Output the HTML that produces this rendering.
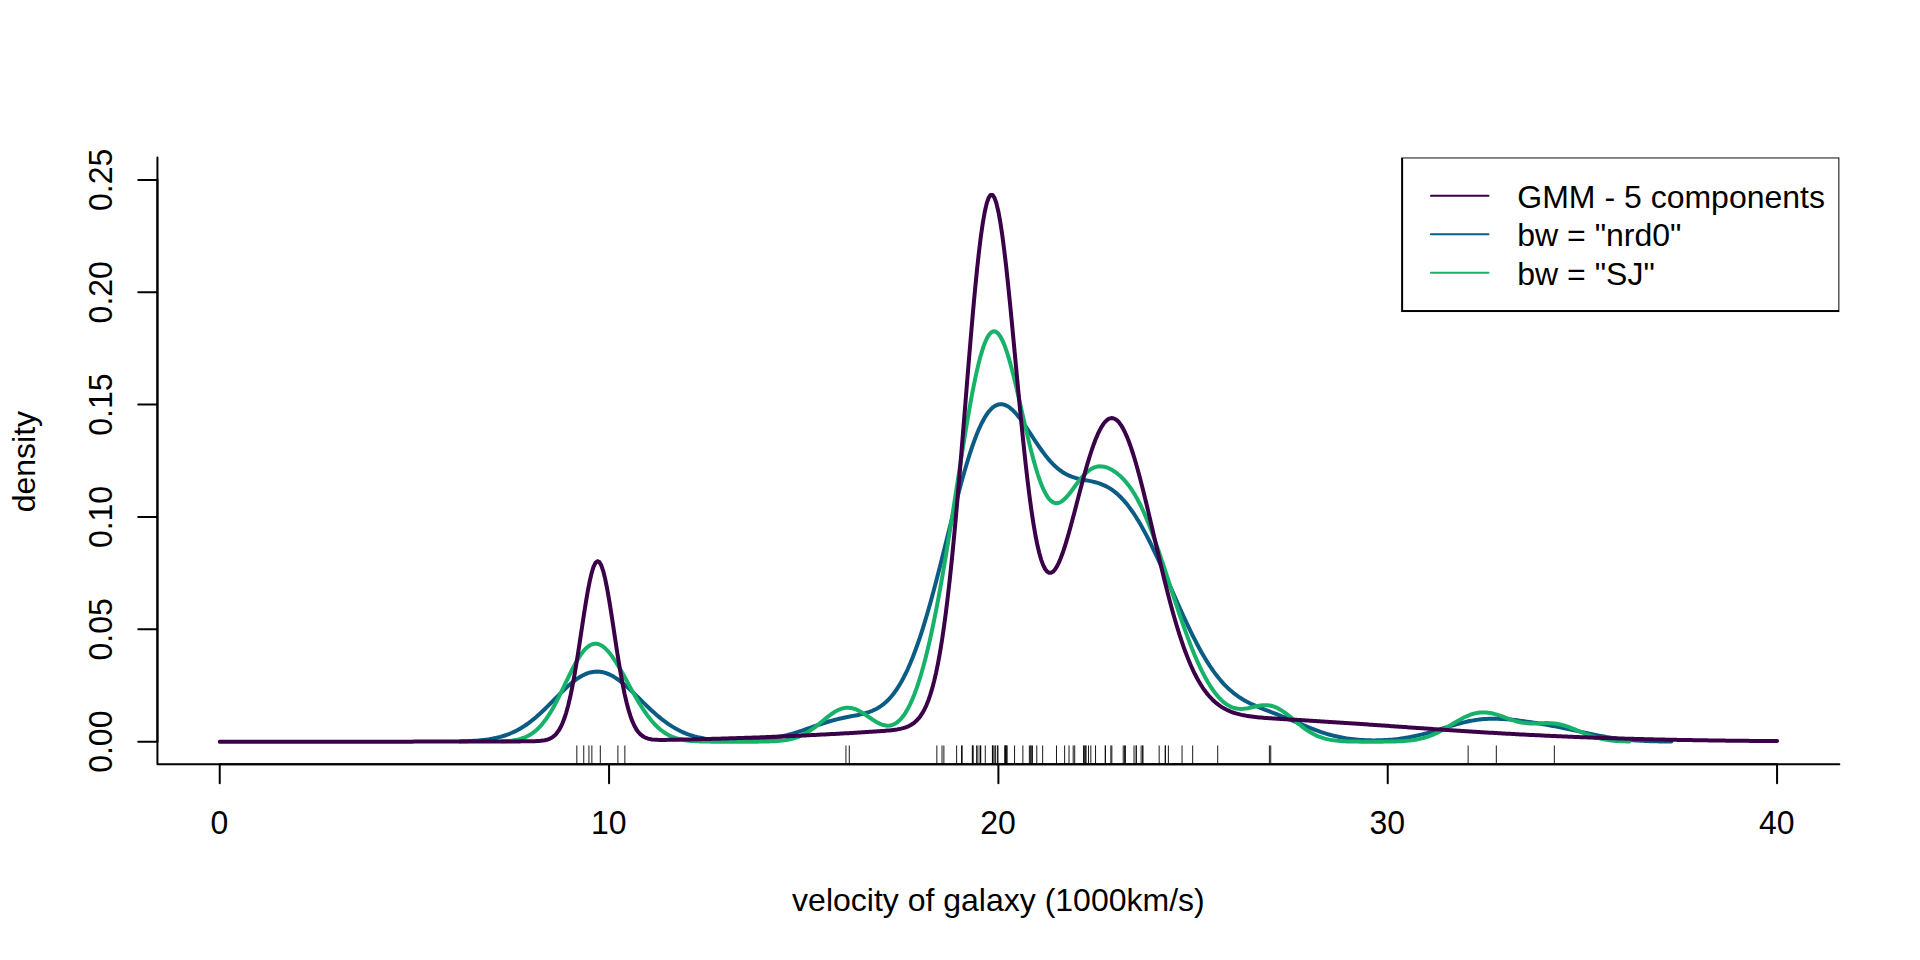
<!DOCTYPE html>
<html lang="en"><head><meta charset="utf-8"><title>Galaxy velocity density</title>
<style>
html,body{margin:0;padding:0;background:#fff;}
body{width:1920px;height:960px;overflow:hidden;}
svg{display:block;}
text{font-family:"Liberation Sans",Arial,Helvetica,sans-serif;font-size:32px;fill:#000;}
</style></head><body>
<svg width="1920" height="960" viewBox="0 0 1920 960">
<rect width="1920" height="960" fill="#fff"/>
<defs><clipPath id="pc"><rect x="157.44" y="157.44" width="1681.92" height="606.72"/></clipPath></defs>

<g clip-path="url(#pc)" fill="none" stroke-width="4" stroke-linecap="round" stroke-linejoin="round">
<path d="M459.82,741.40 L462.19,741.33 L464.56,741.26 L466.93,741.17 L469.30,741.07 L471.67,740.95 L474.04,740.81 L476.41,740.64 L478.78,740.45 L481.15,740.23 L483.52,739.98 L485.89,739.69 L488.27,739.36 L490.64,738.98 L493.01,738.56 L495.38,738.08 L497.75,737.54 L500.12,736.93 L502.49,736.26 L504.86,735.51 L507.23,734.68 L509.60,733.77 L511.97,732.77 L514.35,731.68 L516.72,730.49 L519.09,729.21 L521.46,727.82 L523.83,726.34 L526.20,724.75 L528.57,723.06 L530.94,721.27 L533.31,719.39 L535.68,717.41 L538.05,715.35 L540.43,713.21 L542.80,711.00 L545.17,708.72 L547.54,706.39 L549.91,704.02 L552.28,701.63 L554.65,699.22 L557.02,696.81 L559.39,694.42 L561.76,692.07 L564.13,689.77 L566.51,687.54 L568.88,685.39 L571.25,683.34 L573.62,681.41 L575.99,679.62 L578.36,677.98 L580.73,676.50 L583.10,675.19 L585.47,674.08 L587.84,673.16 L590.21,672.44 L592.59,671.93 L594.96,671.64 L597.33,671.56 L599.70,671.70 L602.07,672.06 L604.44,672.62 L606.81,673.39 L609.18,674.36 L611.55,675.52 L613.92,676.85 L616.29,678.35 L618.67,680.01 L621.04,681.80 L623.41,683.71 L625.78,685.73 L628.15,687.85 L630.52,690.04 L632.89,692.29 L635.26,694.59 L637.63,696.91 L640.00,699.25 L642.37,701.58 L644.75,703.91 L647.12,706.20 L649.49,708.46 L651.86,710.67 L654.23,712.81 L656.60,714.89 L658.97,716.90 L661.34,718.83 L663.71,720.67 L666.08,722.42 L668.45,724.08 L670.82,725.65 L673.20,727.12 L675.57,728.50 L677.94,729.78 L680.31,730.98 L682.68,732.08 L685.05,733.10 L687.42,734.03 L689.79,734.88 L692.16,735.66 L694.53,736.36 L696.90,737.00 L699.28,737.57 L701.65,738.08 L704.02,738.54 L706.39,738.94 L708.76,739.30 L711.13,739.61 L713.50,739.88 L715.87,740.12 L718.24,740.32 L720.61,740.49 L722.98,740.63 L725.36,740.74 L727.73,740.83 L730.10,740.90 L732.47,740.94 L734.84,740.96 L737.21,740.97 L739.58,740.95 L741.95,740.91 L744.32,740.85 L746.69,740.77 L749.06,740.67 L751.44,740.54 L753.81,740.39 L756.18,740.22 L758.55,740.02 L760.92,739.79 L763.29,739.54 L765.66,739.25 L768.03,738.93 L770.40,738.58 L772.77,738.20 L775.14,737.78 L777.52,737.32 L779.89,736.83 L782.26,736.30 L784.63,735.74 L787.00,735.14 L789.37,734.50 L791.74,733.83 L794.11,733.13 L796.48,732.39 L798.85,731.64 L801.22,730.86 L803.60,730.05 L805.97,729.24 L808.34,728.41 L810.71,727.58 L813.08,726.74 L815.45,725.91 L817.82,725.09 L820.19,724.28 L822.56,723.49 L824.93,722.73 L827.30,721.99 L829.68,721.28 L832.05,720.60 L834.42,719.96 L836.79,719.36 L839.16,718.78 L841.53,718.24 L843.90,717.73 L846.27,717.25 L848.64,716.78 L851.01,716.33 L853.38,715.88 L855.75,715.42 L858.13,714.94 L860.50,714.42 L862.87,713.86 L865.24,713.23 L867.61,712.52 L869.98,711.70 L872.35,710.77 L874.72,709.69 L877.09,708.46 L879.46,707.04 L881.83,705.42 L884.21,703.57 L886.58,701.48 L888.95,699.12 L891.32,696.49 L893.69,693.54 L896.06,690.28 L898.43,686.69 L900.80,682.75 L903.17,678.45 L905.54,673.78 L907.91,668.74 L910.29,663.32 L912.66,657.52 L915.03,651.34 L917.40,644.78 L919.77,637.86 L922.14,630.58 L924.51,622.96 L926.88,615.02 L929.25,606.77 L931.62,598.25 L933.99,589.48 L936.37,580.49 L938.74,571.31 L941.11,561.98 L943.48,552.55 L945.85,543.05 L948.22,533.53 L950.59,524.04 L952.96,514.61 L955.33,505.30 L957.70,496.16 L960.07,487.23 L962.45,478.56 L964.82,470.20 L967.19,462.20 L969.56,454.59 L971.93,447.41 L974.30,440.71 L976.67,434.51 L979.04,428.84 L981.41,423.74 L983.78,419.21 L986.15,415.27 L988.53,411.93 L990.90,409.19 L993.27,407.06 L995.64,405.52 L998.01,404.57 L1000.38,404.18 L1002.75,404.32 L1005.12,404.98 L1007.49,406.12 L1009.86,407.71 L1012.23,409.70 L1014.61,412.05 L1016.98,414.73 L1019.35,417.67 L1021.72,420.84 L1024.09,424.20 L1026.46,427.68 L1028.83,431.26 L1031.20,434.88 L1033.57,438.50 L1035.94,442.09 L1038.31,445.60 L1040.69,449.01 L1043.06,452.29 L1045.43,455.41 L1047.80,458.35 L1050.17,461.10 L1052.54,463.65 L1054.91,465.98 L1057.28,468.10 L1059.65,470.00 L1062.02,471.69 L1064.39,473.19 L1066.76,474.49 L1069.14,475.61 L1071.51,476.58 L1073.88,477.40 L1076.25,478.11 L1078.62,478.72 L1080.99,479.25 L1083.36,479.74 L1085.73,480.19 L1088.10,480.65 L1090.47,481.12 L1092.84,481.64 L1095.22,482.22 L1097.59,482.89 L1099.96,483.66 L1102.33,484.55 L1104.70,485.59 L1107.07,486.78 L1109.44,488.14 L1111.81,489.67 L1114.18,491.40 L1116.55,493.33 L1118.92,495.45 L1121.30,497.79 L1123.67,500.34 L1126.04,503.10 L1128.41,506.08 L1130.78,509.27 L1133.15,512.67 L1135.52,516.27 L1137.89,520.07 L1140.26,524.07 L1142.63,528.25 L1145.00,532.60 L1147.38,537.12 L1149.75,541.78 L1152.12,546.59 L1154.49,551.53 L1156.86,556.57 L1159.23,561.72 L1161.60,566.95 L1163.97,572.24 L1166.34,577.58 L1168.71,582.96 L1171.08,588.35 L1173.46,593.75 L1175.83,599.12 L1178.20,604.47 L1180.57,609.77 L1182.94,615.00 L1185.31,620.16 L1187.68,625.22 L1190.05,630.17 L1192.42,635.01 L1194.79,639.72 L1197.16,644.28 L1199.54,648.69 L1201.91,652.95 L1204.28,657.03 L1206.65,660.95 L1209.02,664.69 L1211.39,668.25 L1213.76,671.63 L1216.13,674.82 L1218.50,677.84 L1220.87,680.68 L1223.24,683.34 L1225.62,685.82 L1227.99,688.15 L1230.36,690.31 L1232.73,692.33 L1235.10,694.20 L1237.47,695.93 L1239.84,697.54 L1242.21,699.04 L1244.58,700.43 L1246.95,701.73 L1249.32,702.95 L1251.69,704.10 L1254.07,705.19 L1256.44,706.22 L1258.81,707.21 L1261.18,708.17 L1263.55,709.11 L1265.92,710.03 L1268.29,710.95 L1270.66,711.86 L1273.03,712.77 L1275.40,713.68 L1277.77,714.61 L1280.15,715.54 L1282.52,716.49 L1284.89,717.45 L1287.26,718.42 L1289.63,719.41 L1292.00,720.40 L1294.37,721.39 L1296.74,722.40 L1299.11,723.40 L1301.48,724.39 L1303.85,725.38 L1306.23,726.36 L1308.60,727.32 L1310.97,728.27 L1313.34,729.19 L1315.71,730.08 L1318.08,730.95 L1320.45,731.78 L1322.82,732.57 L1325.19,733.33 L1327.56,734.06 L1329.93,734.74 L1332.31,735.38 L1334.68,735.98 L1337.05,736.53 L1339.42,737.05 L1341.79,737.52 L1344.16,737.96 L1346.53,738.35 L1348.90,738.70 L1351.27,739.02 L1353.64,739.30 L1356.01,739.55 L1358.39,739.76 L1360.76,739.94 L1363.13,740.09 L1365.50,740.20 L1367.87,740.29 L1370.24,740.35 L1372.61,740.38 L1374.98,740.38 L1377.35,740.36 L1379.72,740.31 L1382.09,740.23 L1384.47,740.12 L1386.84,739.98 L1389.21,739.82 L1391.58,739.63 L1393.95,739.41 L1396.32,739.16 L1398.69,738.88 L1401.06,738.56 L1403.43,738.22 L1405.80,737.85 L1408.17,737.44 L1410.55,737.00 L1412.92,736.53 L1415.29,736.03 L1417.66,735.50 L1420.03,734.93 L1422.40,734.34 L1424.77,733.72 L1427.14,733.08 L1429.51,732.42 L1431.88,731.73 L1434.25,731.03 L1436.62,730.31 L1439.00,729.59 L1441.37,728.85 L1443.74,728.12 L1446.11,727.39 L1448.48,726.66 L1450.85,725.94 L1453.22,725.24 L1455.59,724.56 L1457.96,723.90 L1460.33,723.26 L1462.70,722.66 L1465.08,722.10 L1467.45,721.57 L1469.82,721.08 L1472.19,720.64 L1474.56,720.24 L1476.93,719.88 L1479.30,719.58 L1481.67,719.32 L1484.04,719.11 L1486.41,718.95 L1488.78,718.83 L1491.16,718.76 L1493.53,718.74 L1495.90,718.75 L1498.27,718.81 L1500.64,718.90 L1503.01,719.03 L1505.38,719.19 L1507.75,719.37 L1510.12,719.58 L1512.49,719.82 L1514.86,720.08 L1517.24,720.35 L1519.61,720.65 L1521.98,720.96 L1524.35,721.28 L1526.72,721.61 L1529.09,721.95 L1531.46,722.31 L1533.83,722.67 L1536.20,723.04 L1538.57,723.43 L1540.94,723.82 L1543.32,724.22 L1545.69,724.63 L1548.06,725.05 L1550.43,725.48 L1552.80,725.93 L1555.17,726.38 L1557.54,726.84 L1559.91,727.31 L1562.28,727.80 L1564.65,728.29 L1567.02,728.79 L1569.40,729.30 L1571.77,729.81 L1574.14,730.33 L1576.51,730.86 L1578.88,731.38 L1581.25,731.91 L1583.62,732.43 L1585.99,732.95 L1588.36,733.46 L1590.73,733.97 L1593.10,734.46 L1595.48,734.95 L1597.85,735.42 L1600.22,735.88 L1602.59,736.32 L1604.96,736.74 L1607.33,737.15 L1609.70,737.53 L1612.07,737.90 L1614.44,738.24 L1616.81,738.56 L1619.18,738.87 L1621.56,739.15 L1623.93,739.41 L1626.30,739.65 L1628.67,739.88 L1631.04,740.08 L1633.41,740.27 L1635.78,740.44 L1638.15,740.59 L1640.52,740.73 L1642.89,740.85 L1645.26,740.96 L1647.63,741.06 L1650.01,741.15 L1652.38,741.22 L1654.75,741.29 L1657.12,741.35 L1659.49,741.40 L1661.86,741.44 L1664.23,741.48 L1666.60,741.51 L1668.97,741.54 L1671.34,741.57" stroke="#0B5C84"/>
<path d="M501.73,741.35 L503.93,741.24 L506.14,741.10 L508.35,740.92 L510.55,740.70 L512.76,740.42 L514.97,740.07 L517.18,739.65 L519.38,739.13 L521.59,738.50 L523.80,737.74 L526.00,736.85 L528.21,735.79 L530.42,734.54 L532.62,733.10 L534.83,731.44 L537.04,729.55 L539.24,727.40 L541.45,725.00 L543.66,722.32 L545.86,719.37 L548.07,716.15 L550.28,712.66 L552.49,708.91 L554.69,704.94 L556.90,700.75 L559.11,696.40 L561.31,691.91 L563.52,687.33 L565.73,682.71 L567.93,678.11 L570.14,673.59 L572.35,669.19 L574.55,664.99 L576.76,661.04 L578.97,657.40 L581.17,654.11 L583.38,651.21 L585.59,648.75 L587.79,646.76 L590.00,645.26 L592.21,644.26 L594.42,643.76 L596.62,643.77 L598.83,644.28 L601.04,645.26 L603.24,646.70 L605.45,648.56 L607.66,650.81 L609.86,653.42 L612.07,656.35 L614.28,659.55 L616.48,662.99 L618.69,666.63 L620.90,670.42 L623.10,674.33 L625.31,678.32 L627.52,682.34 L629.73,686.37 L631.93,690.37 L634.14,694.31 L636.35,698.17 L638.55,701.92 L640.76,705.53 L642.97,708.98 L645.17,712.27 L647.38,715.37 L649.59,718.28 L651.79,720.99 L654.00,723.49 L656.21,725.79 L658.41,727.88 L660.62,729.77 L662.83,731.47 L665.03,732.98 L667.24,734.31 L669.45,735.49 L671.66,736.51 L673.86,737.39 L676.07,738.15 L678.28,738.79 L680.48,739.33 L682.69,739.79 L684.90,740.16 L687.10,740.48 L689.31,740.73 L691.52,740.94 L693.72,741.10 L695.93,741.24 L698.14,741.34 L700.34,741.42 L702.55,741.49 L704.76,741.54 L706.97,741.58 L709.17,741.61 L711.38,741.63 L713.59,741.64 L715.79,741.66 L718.00,741.67 L720.21,741.67 L722.41,741.68 L724.62,741.68 L726.83,741.68 L729.03,741.68 L731.24,741.69 L733.45,741.69 L735.65,741.69 L737.86,741.69 L740.07,741.68 L742.27,741.68 L744.48,741.68 L746.69,741.68 L748.90,741.67 L751.10,741.67 L753.31,741.66 L755.52,741.65 L757.72,741.63 L759.93,741.61 L762.14,741.59 L764.34,741.55 L766.55,741.51 L768.76,741.45 L770.96,741.37 L773.17,741.27 L775.38,741.15 L777.58,741.00 L779.79,740.81 L782.00,740.58 L784.21,740.30 L786.41,739.96 L788.62,739.55 L790.83,739.07 L793.03,738.50 L795.24,737.85 L797.45,737.09 L799.65,736.23 L801.86,735.25 L804.07,734.16 L806.27,732.96 L808.48,731.63 L810.69,730.20 L812.89,728.66 L815.10,727.03 L817.31,725.33 L819.51,723.56 L821.72,721.76 L823.93,719.96 L826.14,718.16 L828.34,716.42 L830.55,714.76 L832.76,713.21 L834.96,711.80 L837.17,710.56 L839.38,709.52 L841.58,708.70 L843.79,708.12 L846.00,707.79 L848.20,707.71 L850.41,707.89 L852.62,708.31 L854.82,708.98 L857.03,709.86 L859.24,710.93 L861.45,712.16 L863.65,713.53 L865.86,714.99 L868.07,716.50 L870.27,718.02 L872.48,719.51 L874.69,720.93 L876.89,722.23 L879.10,723.38 L881.31,724.33 L883.51,725.05 L885.72,725.51 L887.93,725.66 L890.13,725.48 L892.34,724.94 L894.55,724.01 L896.75,722.66 L898.96,720.87 L901.17,718.61 L903.38,715.87 L905.58,712.62 L907.79,708.85 L910.00,704.54 L912.20,699.68 L914.41,694.26 L916.62,688.26 L918.82,681.69 L921.03,674.53 L923.24,666.79 L925.44,658.46 L927.65,649.56 L929.86,640.08 L932.06,630.04 L934.27,619.45 L936.48,608.33 L938.69,596.70 L940.89,584.58 L943.10,572.01 L945.31,559.04 L947.51,545.69 L949.72,532.03 L951.93,518.13 L954.13,504.03 L956.34,489.84 L958.55,475.63 L960.75,461.49 L962.96,447.53 L965.17,433.87 L967.37,420.60 L969.58,407.85 L971.79,395.73 L973.99,384.37 L976.20,373.87 L978.41,364.34 L980.62,355.87 L982.82,348.55 L985.03,342.47 L987.24,337.66 L989.44,334.18 L991.65,332.04 L993.86,331.25 L996.06,331.79 L998.27,333.63 L1000.48,336.71 L1002.68,340.97 L1004.89,346.32 L1007.10,352.65 L1009.30,359.86 L1011.51,367.83 L1013.72,376.42 L1015.93,385.51 L1018.13,394.95 L1020.34,404.62 L1022.55,414.37 L1024.75,424.09 L1026.96,433.64 L1029.17,442.90 L1031.37,451.76 L1033.58,460.13 L1035.79,467.91 L1037.99,475.03 L1040.20,481.42 L1042.41,487.02 L1044.61,491.80 L1046.82,495.75 L1049.03,498.84 L1051.23,501.09 L1053.44,502.52 L1055.65,503.17 L1057.86,503.09 L1060.06,502.34 L1062.27,501.00 L1064.48,499.15 L1066.68,496.88 L1068.89,494.29 L1071.10,491.47 L1073.30,488.52 L1075.51,485.52 L1077.72,482.56 L1079.92,479.71 L1082.13,477.05 L1084.34,474.62 L1086.54,472.47 L1088.75,470.62 L1090.96,469.11 L1093.17,467.93 L1095.37,467.08 L1097.58,466.57 L1099.79,466.36 L1101.99,466.44 L1104.20,466.80 L1106.41,467.40 L1108.61,468.24 L1110.82,469.30 L1113.03,470.56 L1115.23,472.02 L1117.44,473.67 L1119.65,475.53 L1121.85,477.60 L1124.06,479.89 L1126.27,482.41 L1128.47,485.18 L1130.68,488.21 L1132.89,491.52 L1135.10,495.12 L1137.30,499.02 L1139.51,503.22 L1141.72,507.72 L1143.92,512.53 L1146.13,517.62 L1148.34,522.99 L1150.54,528.62 L1152.75,534.48 L1154.96,540.56 L1157.16,546.83 L1159.37,553.26 L1161.58,559.82 L1163.78,566.48 L1165.99,573.21 L1168.20,579.99 L1170.41,586.78 L1172.61,593.55 L1174.82,600.28 L1177.03,606.94 L1179.23,613.51 L1181.44,619.97 L1183.65,626.28 L1185.85,632.44 L1188.06,638.42 L1190.27,644.21 L1192.47,649.79 L1194.68,655.15 L1196.89,660.28 L1199.09,665.17 L1201.30,669.82 L1203.51,674.21 L1205.71,678.34 L1207.92,682.22 L1210.13,685.83 L1212.34,689.17 L1214.54,692.25 L1216.75,695.06 L1218.96,697.61 L1221.16,699.89 L1223.37,701.90 L1225.58,703.64 L1227.78,705.12 L1229.99,706.34 L1232.20,707.31 L1234.40,708.04 L1236.61,708.54 L1238.82,708.82 L1241.02,708.90 L1243.23,708.81 L1245.44,708.57 L1247.65,708.21 L1249.85,707.77 L1252.06,707.27 L1254.27,706.76 L1256.47,706.26 L1258.68,705.83 L1260.89,705.48 L1263.09,705.25 L1265.30,705.17 L1267.51,705.26 L1269.71,705.54 L1271.92,706.01 L1274.13,706.69 L1276.33,707.57 L1278.54,708.64 L1280.75,709.90 L1282.95,711.32 L1285.16,712.88 L1287.37,714.55 L1289.58,716.31 L1291.78,718.13 L1293.99,719.99 L1296.20,721.84 L1298.40,723.68 L1300.61,725.47 L1302.82,727.19 L1305.02,728.82 L1307.23,730.36 L1309.44,731.79 L1311.64,733.11 L1313.85,734.31 L1316.06,735.39 L1318.26,736.35 L1320.47,737.20 L1322.68,737.95 L1324.89,738.59 L1327.09,739.15 L1329.30,739.62 L1331.51,740.01 L1333.71,740.34 L1335.92,740.62 L1338.13,740.84 L1340.33,741.03 L1342.54,741.17 L1344.75,741.29 L1346.95,741.38 L1349.16,741.46 L1351.37,741.51 L1353.57,741.56 L1355.78,741.59 L1357.99,741.62 L1360.19,741.64 L1362.40,741.65 L1364.61,741.66 L1366.82,741.66 L1369.02,741.67 L1371.23,741.67 L1373.44,741.67 L1375.64,741.67 L1377.85,741.66 L1380.06,741.65 L1382.26,741.64 L1384.47,741.62 L1386.68,741.60 L1388.88,741.57 L1391.09,741.54 L1393.30,741.49 L1395.50,741.43 L1397.71,741.36 L1399.92,741.26 L1402.13,741.15 L1404.33,741.01 L1406.54,740.84 L1408.75,740.63 L1410.95,740.39 L1413.16,740.09 L1415.37,739.75 L1417.57,739.36 L1419.78,738.90 L1421.99,738.37 L1424.19,737.78 L1426.40,737.11 L1428.61,736.36 L1430.81,735.54 L1433.02,734.63 L1435.23,733.65 L1437.43,732.60 L1439.64,731.48 L1441.85,730.30 L1444.06,729.06 L1446.26,727.77 L1448.47,726.46 L1450.68,725.13 L1452.88,723.79 L1455.09,722.46 L1457.30,721.15 L1459.50,719.89 L1461.71,718.68 L1463.92,717.54 L1466.12,716.49 L1468.33,715.54 L1470.54,714.70 L1472.74,713.98 L1474.95,713.38 L1477.16,712.92 L1479.37,712.60 L1481.57,712.43 L1483.78,712.39 L1485.99,712.48 L1488.19,712.71 L1490.40,713.06 L1492.61,713.52 L1494.81,714.08 L1497.02,714.72 L1499.23,715.43 L1501.43,716.20 L1503.64,716.99 L1505.85,717.80 L1508.05,718.61 L1510.26,719.39 L1512.47,720.14 L1514.67,720.83 L1516.88,721.45 L1519.09,721.99 L1521.30,722.45 L1523.50,722.82 L1525.71,723.10 L1527.92,723.30 L1530.12,723.41 L1532.33,723.46 L1534.54,723.44 L1536.74,723.39 L1538.95,723.31 L1541.16,723.22 L1543.36,723.15 L1545.57,723.10 L1547.78,723.10 L1549.98,723.15 L1552.19,723.28 L1554.40,723.49 L1556.61,723.79 L1558.81,724.18 L1561.02,724.66 L1563.23,725.24 L1565.43,725.89 L1567.64,726.63 L1569.85,727.43 L1572.05,728.28 L1574.26,729.17 L1576.47,730.09 L1578.67,731.02 L1580.88,731.94 L1583.09,732.86 L1585.29,733.75 L1587.50,734.60 L1589.71,735.41 L1591.91,736.17 L1594.12,736.87 L1596.33,737.52 L1598.54,738.11 L1600.74,738.64 L1602.95,739.11 L1605.16,739.52 L1607.36,739.89 L1609.57,740.20 L1611.78,740.47 L1613.98,740.69 L1616.19,740.89 L1618.40,741.05 L1620.60,741.18 L1622.81,741.29 L1625.02,741.37 L1627.22,741.44 L1629.43,741.50" stroke="#17B269"/>
<path d="M219.73,741.69 L221.68,741.69 L223.63,741.69 L225.57,741.69 L227.52,741.69 L229.47,741.69 L231.41,741.69 L233.36,741.69 L235.31,741.69 L237.25,741.69 L239.20,741.69 L241.15,741.69 L243.09,741.69 L245.04,741.69 L246.99,741.69 L248.93,741.69 L250.88,741.69 L252.83,741.69 L254.77,741.68 L256.72,741.68 L258.67,741.68 L260.61,741.68 L262.56,741.68 L264.51,741.68 L266.45,741.68 L268.40,741.68 L270.35,741.68 L272.29,741.68 L274.24,741.68 L276.19,741.68 L278.13,741.68 L280.08,741.68 L282.03,741.68 L283.97,741.68 L285.92,741.68 L287.87,741.68 L289.81,741.68 L291.76,741.68 L293.71,741.68 L295.65,741.68 L297.60,741.68 L299.55,741.68 L301.49,741.68 L303.44,741.68 L305.39,741.68 L307.33,741.68 L309.28,741.68 L311.23,741.68 L313.17,741.68 L315.12,741.68 L317.07,741.68 L319.01,741.68 L320.96,741.68 L322.91,741.67 L324.85,741.67 L326.80,741.67 L328.75,741.67 L330.69,741.67 L332.64,741.67 L334.59,741.67 L336.53,741.67 L338.48,741.67 L340.43,741.67 L342.37,741.67 L344.32,741.67 L346.27,741.67 L348.21,741.67 L350.16,741.67 L352.11,741.67 L354.05,741.66 L356.00,741.66 L357.95,741.66 L359.89,741.66 L361.84,741.66 L363.79,741.66 L365.73,741.66 L367.68,741.66 L369.63,741.66 L371.57,741.66 L373.52,741.66 L375.47,741.65 L377.41,741.65 L379.36,741.65 L381.31,741.65 L383.25,741.65 L385.20,741.65 L387.15,741.65 L389.09,741.65 L391.04,741.64 L392.99,741.64 L394.93,741.64 L396.88,741.64 L398.83,741.64 L400.77,741.64 L402.72,741.63 L404.67,741.63 L406.61,741.63 L408.56,741.63 L410.51,741.63 L412.45,741.63 L414.40,741.62 L416.35,741.62 L418.29,741.62 L420.24,741.62 L422.19,741.62 L424.13,741.61 L426.08,741.61 L428.03,741.61 L429.97,741.61 L431.92,741.60 L433.87,741.60 L435.81,741.60 L437.76,741.60 L439.71,741.59 L441.65,741.59 L443.60,741.59 L445.55,741.58 L447.49,741.58 L449.44,741.58 L451.39,741.57 L453.33,741.57 L455.28,741.57 L457.23,741.56 L459.17,741.56 L461.12,741.56 L463.07,741.55 L465.01,741.55 L466.96,741.54 L468.91,741.54 L470.85,741.54 L472.80,741.53 L474.75,741.53 L476.69,741.52 L478.64,741.52 L480.59,741.51 L482.53,741.51 L484.48,741.50 L486.43,741.50 L488.37,741.49 L490.32,741.49 L492.27,741.48 L494.21,741.48 L496.16,741.47 L498.11,741.46 L500.05,741.46 L502.00,741.45 L503.95,741.44 L505.89,741.44 L507.84,741.43 L509.79,741.42 L511.73,741.42 L513.68,741.41 L515.63,741.40 L517.57,741.39 L519.52,741.38 L521.47,741.37 L523.41,741.36 L525.36,741.35 L527.31,741.33 L529.25,741.31 L531.20,741.29 L533.15,741.25 L535.09,741.19 L537.04,741.11 L538.99,741.00 L540.93,740.84 L542.88,740.60 L544.83,740.27 L546.77,739.80 L548.72,739.16 L550.67,738.29 L552.61,737.11 L554.56,735.55 L556.51,733.52 L558.45,730.91 L560.40,727.62 L562.35,723.54 L564.29,718.54 L566.24,712.55 L568.19,705.48 L570.13,697.29 L572.08,687.98 L574.03,677.59 L575.97,666.24 L577.92,654.11 L579.87,641.42 L581.81,628.48 L583.76,615.65 L585.71,603.31 L587.65,591.88 L589.60,581.76 L591.55,573.34 L593.49,566.94 L595.44,562.83 L597.39,561.17 L599.33,562.03 L601.28,565.38 L603.23,571.08 L605.17,578.89 L607.12,588.50 L609.07,599.55 L611.01,611.62 L612.96,624.30 L614.91,637.21 L616.85,649.97 L618.80,662.26 L620.75,673.83 L622.69,684.47 L624.64,694.08 L626.59,702.57 L628.53,709.93 L630.48,716.20 L632.43,721.44 L634.37,725.75 L636.32,729.23 L638.27,731.99 L640.21,734.14 L642.16,735.79 L644.11,737.03 L646.05,737.95 L648.00,738.61 L649.95,739.08 L651.89,739.41 L653.84,739.62 L655.79,739.76 L657.73,739.85 L659.68,739.89 L661.63,739.91 L663.57,739.91 L665.52,739.89 L667.47,739.87 L669.41,739.84 L671.36,739.81 L673.31,739.77 L675.25,739.74 L677.20,739.70 L679.15,739.66 L681.09,739.62 L683.04,739.58 L684.99,739.53 L686.93,739.49 L688.88,739.45 L690.83,739.40 L692.77,739.36 L694.72,739.31 L696.67,739.27 L698.61,739.22 L700.56,739.17 L702.51,739.12 L704.45,739.07 L706.40,739.02 L708.35,738.97 L710.29,738.92 L712.24,738.87 L714.19,738.82 L716.13,738.76 L718.08,738.71 L720.03,738.65 L721.97,738.60 L723.92,738.54 L725.87,738.48 L727.81,738.43 L729.76,738.37 L731.71,738.31 L733.65,738.25 L735.60,738.18 L737.55,738.12 L739.49,738.06 L741.44,737.99 L743.39,737.93 L745.33,737.86 L747.28,737.80 L749.23,737.73 L751.17,737.66 L753.12,737.59 L755.07,737.52 L757.01,737.45 L758.96,737.38 L760.91,737.31 L762.85,737.23 L764.80,737.16 L766.75,737.08 L768.69,737.01 L770.64,736.93 L772.59,736.85 L774.53,736.78 L776.48,736.70 L778.43,736.62 L780.37,736.53 L782.32,736.45 L784.27,736.37 L786.21,736.28 L788.16,736.20 L790.11,736.11 L792.05,736.03 L794.00,735.94 L795.95,735.85 L797.89,735.76 L799.84,735.67 L801.79,735.58 L803.73,735.49 L805.68,735.39 L807.63,735.30 L809.57,735.21 L811.52,735.11 L813.47,735.01 L815.41,734.92 L817.36,734.82 L819.31,734.72 L821.25,734.62 L823.20,734.52 L825.15,734.42 L827.09,734.31 L829.04,734.21 L830.99,734.10 L832.93,734.00 L834.88,733.89 L836.83,733.79 L838.77,733.68 L840.72,733.57 L842.67,733.46 L844.61,733.35 L846.56,733.24 L848.51,733.13 L850.45,733.01 L852.40,732.90 L854.35,732.79 L856.29,732.67 L858.24,732.56 L860.19,732.44 L862.13,732.32 L864.08,732.20 L866.03,732.08 L867.97,731.96 L869.92,731.84 L871.87,731.71 L873.81,731.59 L875.76,731.46 L877.71,731.32 L879.65,731.19 L881.60,731.05 L883.55,730.90 L885.49,730.74 L887.44,730.57 L889.39,730.39 L891.33,730.18 L893.28,729.96 L895.23,729.70 L897.17,729.40 L899.12,729.05 L901.07,728.64 L903.01,728.16 L904.96,727.58 L906.91,726.88 L908.85,726.04 L910.80,725.02 L912.75,723.80 L914.69,722.33 L916.64,720.56 L918.59,718.45 L920.53,715.94 L922.48,712.96 L924.43,709.44 L926.37,705.31 L928.32,700.49 L930.27,694.90 L932.21,688.45 L934.16,681.06 L936.11,672.65 L938.05,663.13 L940.00,652.44 L941.95,640.51 L943.89,627.29 L945.84,612.75 L947.79,596.88 L949.73,579.68 L951.68,561.18 L953.63,541.45 L955.57,520.58 L957.52,498.68 L959.47,475.91 L961.41,452.46 L963.36,428.52 L965.31,404.35 L967.25,380.20 L969.20,356.36 L971.15,333.11 L973.09,310.77 L975.04,289.63 L976.99,269.99 L978.93,252.14 L980.88,236.34 L982.83,222.81 L984.77,211.77 L986.72,203.38 L988.67,197.74 L990.61,194.93 L992.56,194.98 L994.51,197.84 L996.45,203.45 L998.40,211.68 L1000.35,222.35 L1002.29,235.27 L1004.24,250.18 L1006.19,266.83 L1008.13,284.92 L1010.08,304.15 L1012.03,324.22 L1013.97,344.82 L1015.92,365.64 L1017.87,386.41 L1019.81,406.85 L1021.76,426.73 L1023.71,445.81 L1025.65,463.91 L1027.60,480.86 L1029.55,496.53 L1031.49,510.82 L1033.44,523.66 L1035.39,534.99 L1037.33,544.79 L1039.28,553.06 L1041.23,559.83 L1043.17,565.13 L1045.12,569.01 L1047.07,571.54 L1049.01,572.79 L1050.96,572.84 L1052.91,571.79 L1054.85,569.71 L1056.80,566.70 L1058.75,562.86 L1060.69,558.28 L1062.64,553.04 L1064.59,547.24 L1066.53,540.96 L1068.48,534.28 L1070.43,527.29 L1072.37,520.07 L1074.32,512.68 L1076.27,505.21 L1078.21,497.71 L1080.16,490.26 L1082.11,482.91 L1084.05,475.73 L1086.00,468.77 L1087.95,462.09 L1089.89,455.73 L1091.84,449.75 L1093.79,444.18 L1095.73,439.06 L1097.68,434.44 L1099.63,430.34 L1101.57,426.80 L1103.52,423.83 L1105.47,421.46 L1107.41,419.71 L1109.36,418.58 L1111.31,418.09 L1113.25,418.24 L1115.20,419.03 L1117.15,420.45 L1119.09,422.49 L1121.04,425.15 L1122.99,428.40 L1124.93,432.23 L1126.88,436.61 L1128.83,441.50 L1130.77,446.90 L1132.72,452.75 L1134.67,459.03 L1136.61,465.69 L1138.56,472.71 L1140.51,480.03 L1142.45,487.63 L1144.40,495.45 L1146.35,503.47 L1148.29,511.63 L1150.24,519.90 L1152.19,528.24 L1154.13,536.61 L1156.08,544.97 L1158.03,553.30 L1159.97,561.55 L1161.92,569.70 L1163.87,577.72 L1165.81,585.58 L1167.76,593.25 L1169.71,600.73 L1171.65,607.98 L1173.60,615.00 L1175.55,621.77 L1177.49,628.27 L1179.44,634.50 L1181.39,640.46 L1183.33,646.13 L1185.28,651.53 L1187.23,656.63 L1189.17,661.46 L1191.12,666.01 L1193.07,670.28 L1195.01,674.29 L1196.96,678.03 L1198.91,681.52 L1200.85,684.77 L1202.80,687.78 L1204.75,690.57 L1206.69,693.14 L1208.64,695.52 L1210.59,697.69 L1212.53,699.69 L1214.48,701.52 L1216.43,703.19 L1218.37,704.72 L1220.32,706.10 L1222.27,707.36 L1224.21,708.50 L1226.16,709.53 L1228.11,710.46 L1230.05,711.30 L1232.00,712.06 L1233.95,712.75 L1235.89,713.36 L1237.84,713.92 L1239.79,714.42 L1241.73,714.87 L1243.68,715.27 L1245.63,715.64 L1247.57,715.97 L1249.52,716.27 L1251.47,716.54 L1253.41,716.79 L1255.36,717.02 L1257.31,717.22 L1259.25,717.42 L1261.20,717.60 L1263.15,717.76 L1265.09,717.92 L1267.04,718.07 L1268.99,718.21 L1270.93,718.34 L1272.88,718.47 L1274.83,718.60 L1276.77,718.72 L1278.72,718.84 L1280.67,718.96 L1282.61,719.07 L1284.56,719.19 L1286.51,719.30 L1288.45,719.41 L1290.40,719.52 L1292.35,719.64 L1294.29,719.75 L1296.24,719.86 L1298.19,719.97 L1300.13,720.09 L1302.08,720.20 L1304.03,720.32 L1305.97,720.43 L1307.92,720.55 L1309.87,720.66 L1311.81,720.78 L1313.76,720.90 L1315.71,721.02 L1317.65,721.14 L1319.60,721.26 L1321.55,721.38 L1323.49,721.51 L1325.44,721.63 L1327.39,721.75 L1329.33,721.88 L1331.28,722.01 L1333.23,722.13 L1335.17,722.26 L1337.12,722.39 L1339.07,722.52 L1341.01,722.64 L1342.96,722.77 L1344.91,722.90 L1346.85,723.04 L1348.80,723.17 L1350.75,723.30 L1352.69,723.43 L1354.64,723.56 L1356.59,723.70 L1358.53,723.83 L1360.48,723.97 L1362.43,724.10 L1364.37,724.24 L1366.32,724.37 L1368.27,724.51 L1370.21,724.64 L1372.16,724.78 L1374.11,724.91 L1376.05,725.05 L1378.00,725.19 L1379.95,725.32 L1381.89,725.46 L1383.84,725.60 L1385.79,725.74 L1387.73,725.87 L1389.68,726.01 L1391.63,726.15 L1393.57,726.29 L1395.52,726.42 L1397.47,726.56 L1399.41,726.70 L1401.36,726.84 L1403.31,726.97 L1405.25,727.11 L1407.20,727.25 L1409.15,727.38 L1411.09,727.52 L1413.04,727.66 L1414.99,727.79 L1416.93,727.93 L1418.88,728.06 L1420.83,728.20 L1422.77,728.33 L1424.72,728.47 L1426.67,728.60 L1428.61,728.74 L1430.56,728.87 L1432.51,729.00 L1434.45,729.14 L1436.40,729.27 L1438.35,729.40 L1440.29,729.53 L1442.24,729.67 L1444.19,729.80 L1446.13,729.93 L1448.08,730.06 L1450.03,730.18 L1451.97,730.31 L1453.92,730.44 L1455.87,730.57 L1457.81,730.70 L1459.76,730.82 L1461.71,730.95 L1463.65,731.07 L1465.60,731.20 L1467.55,731.32 L1469.49,731.44 L1471.44,731.57 L1473.39,731.69 L1475.33,731.81 L1477.28,731.93 L1479.23,732.05 L1481.17,732.17 L1483.12,732.29 L1485.07,732.41 L1487.01,732.52 L1488.96,732.64 L1490.91,732.75 L1492.85,732.87 L1494.80,732.98 L1496.75,733.09 L1498.69,733.21 L1500.64,733.32 L1502.59,733.43 L1504.53,733.54 L1506.48,733.65 L1508.43,733.76 L1510.37,733.86 L1512.32,733.97 L1514.27,734.07 L1516.21,734.18 L1518.16,734.28 L1520.11,734.39 L1522.05,734.49 L1524.00,734.59 L1525.95,734.69 L1527.89,734.79 L1529.84,734.89 L1531.79,734.99 L1533.73,735.08 L1535.68,735.18 L1537.63,735.27 L1539.57,735.37 L1541.52,735.46 L1543.47,735.55 L1545.41,735.64 L1547.36,735.74 L1549.31,735.82 L1551.25,735.91 L1553.20,736.00 L1555.15,736.09 L1557.09,736.17 L1559.04,736.26 L1560.99,736.34 L1562.93,736.43 L1564.88,736.51 L1566.83,736.59 L1568.77,736.67 L1570.72,736.75 L1572.67,736.83 L1574.61,736.91 L1576.56,736.99 L1578.51,737.06 L1580.45,737.14 L1582.40,737.21 L1584.35,737.29 L1586.29,737.36 L1588.24,737.43 L1590.19,737.50 L1592.13,737.57 L1594.08,737.64 L1596.03,737.71 L1597.97,737.78 L1599.92,737.84 L1601.87,737.91 L1603.81,737.98 L1605.76,738.04 L1607.71,738.10 L1609.65,738.17 L1611.60,738.23 L1613.55,738.29 L1615.49,738.35 L1617.44,738.41 L1619.39,738.47 L1621.33,738.52 L1623.28,738.58 L1625.23,738.64 L1627.17,738.69 L1629.12,738.75 L1631.07,738.80 L1633.01,738.86 L1634.96,738.91 L1636.91,738.96 L1638.85,739.01 L1640.80,739.06 L1642.75,739.11 L1644.69,739.16 L1646.64,739.21 L1648.59,739.25 L1650.53,739.30 L1652.48,739.35 L1654.43,739.39 L1656.37,739.43 L1658.32,739.48 L1660.27,739.52 L1662.21,739.56 L1664.16,739.61 L1666.11,739.65 L1668.05,739.69 L1670.00,739.73 L1671.95,739.77 L1673.89,739.80 L1675.84,739.84 L1677.79,739.88 L1679.73,739.92 L1681.68,739.95 L1683.63,739.99 L1685.57,740.02 L1687.52,740.06 L1689.47,740.09 L1691.41,740.12 L1693.36,740.16 L1695.31,740.19 L1697.25,740.22 L1699.20,740.25 L1701.15,740.28 L1703.09,740.31 L1705.04,740.34 L1706.99,740.37 L1708.93,740.40 L1710.88,740.42 L1712.83,740.45 L1714.77,740.48 L1716.72,740.50 L1718.67,740.53 L1720.61,740.56 L1722.56,740.58 L1724.51,740.61 L1726.45,740.63 L1728.40,740.65 L1730.35,740.68 L1732.29,740.70 L1734.24,740.72 L1736.19,740.74 L1738.13,740.76 L1740.08,740.78 L1742.03,740.81 L1743.97,740.83 L1745.92,740.85 L1747.87,740.86 L1749.81,740.88 L1751.76,740.90 L1753.71,740.92 L1755.65,740.94 L1757.60,740.96 L1759.55,740.97 L1761.49,740.99 L1763.44,741.01 L1765.39,741.02 L1767.33,741.04 L1769.28,741.05 L1771.23,741.07 L1773.17,741.08 L1775.12,741.10 L1777.07,741.11" stroke="#3A0048"/>
</g>
<g clip-path="url(#pc)"><path d="M576.83,764.16V745.96M583.76,764.16V745.96M588.94,764.16V745.96M591.86,764.16V745.96M600.31,764.16V745.96M617.90,764.16V745.96M624.87,764.16V745.96M845.94,764.16V745.96M849.29,764.16V745.96M936.85,764.16V745.96M942.02,764.16V745.96M943.89,764.16V745.96M956.62,764.16V745.96M961.49,764.16V745.96M962.19,764.16V745.96M972.31,764.16V745.96M972.82,764.16V745.96M973.05,764.16V745.96M976.60,764.16V745.96M977.88,764.16V745.96M980.06,764.16V745.96M980.53,764.16V745.96M980.76,764.16V745.96M985.28,764.16V745.96M992.40,764.16V745.96M992.79,764.16V745.96M993.07,764.16V745.96M995.05,764.16V745.96M995.21,764.16V745.96M997.35,764.16V745.96M997.97,764.16V745.96M1004.86,764.16V745.96M1005.21,764.16V745.96M1005.37,764.16V745.96M1006.03,764.16V745.96M1006.77,764.16V745.96M1007.00,764.16V745.96M1014.56,764.16V745.96M1022.89,764.16V745.96M1029.35,764.16V745.96M1030.36,764.16V745.96M1031.34,764.16V745.96M1032.47,764.16V745.96M1036.79,764.16V745.96M1042.67,764.16V745.96M1056.49,764.16V745.96M1064.63,764.16V745.96M1069.03,764.16V745.96M1073.19,764.16V745.96M1074.71,764.16V745.96M1083.47,764.16V745.96M1084.40,764.16V745.96M1085.69,764.16V745.96M1085.96,764.16V745.96M1088.49,764.16V745.96M1090.83,764.16V745.96M1095.54,764.16V745.96M1105.31,764.16V745.96M1105.35,764.16V745.96M1110.84,764.16V745.96M1111.85,764.16V745.96M1123.22,764.16V745.96M1124.58,764.16V745.96M1125.44,764.16V745.96M1134.04,764.16V745.96M1136.15,764.16V745.96M1136.30,764.16V745.96M1141.13,764.16V745.96M1142.69,764.16V745.96M1142.88,764.16V745.96M1159.16,764.16V745.96M1165.23,764.16V745.96M1165.39,764.16V745.96M1168.38,764.16V745.96M1182.05,764.16V745.96M1192.68,764.16V745.96M1217.71,764.16V745.96M1269.38,764.16V745.96M1270.74,764.16V745.96M1468.13,764.16V745.96M1496.32,764.16V745.96M1554.33,764.16V745.96" fill="none" stroke="#000" stroke-opacity="0.9" stroke-width="1" stroke-linecap="square"/></g>
<g clip-path="url(#pc)"><rect x="1402.11" y="157.44" width="437.25" height="153.60" fill="#fff" stroke="#000" stroke-width="2"/></g>
<path d="M1430.91,195.84H1488.51" stroke="#3A0048" stroke-width="2" stroke-linecap="round" fill="none"/>
<text x="1517.31" y="207.90">GMM - 5 components</text>
<path d="M1430.91,234.24H1488.51" stroke="#0B5C84" stroke-width="2" stroke-linecap="round" fill="none"/>
<text x="1517.31" y="246.30">bw = &quot;nrd0&quot;</text>
<path d="M1430.91,272.64H1488.51" stroke="#17B269" stroke-width="2" stroke-linecap="round" fill="none"/>
<text x="1517.31" y="284.70">bw = &quot;SJ&quot;</text>
<path d="M157.44,157.44V764.16H1839.36" fill="none" stroke="#000" stroke-width="2" stroke-linecap="round" stroke-linejoin="round"/>
<path d="M219.73,764.16H1777.07M157.44,741.69V179.91M219.73,764.16v19.2M609.07,764.16v19.2M998.40,764.16v19.2M1387.73,764.16v19.2M1777.07,764.16v19.2M157.44,741.69h-19.2M157.44,629.33h-19.2M157.44,516.98h-19.2M157.44,404.62h-19.2M157.44,292.27h-19.2M157.44,179.91h-19.2" fill="none" stroke="#000" stroke-width="2" stroke-linecap="round"/>
<text transform="translate(219.33,833.78) scale(1,1.04)" text-anchor="middle">0</text>
<text transform="translate(608.67,833.78) scale(1,1.04)" text-anchor="middle">10</text>
<text transform="translate(998.00,833.78) scale(1,1.04)" text-anchor="middle">20</text>
<text transform="translate(1387.33,833.78) scale(1,1.04)" text-anchor="middle">30</text>
<text transform="translate(1776.67,833.78) scale(1,1.04)" text-anchor="middle">40</text>
<text transform="translate(111.66,741.69) rotate(-90) scale(1,1.04)" text-anchor="middle">0.00</text>
<text transform="translate(111.66,629.33) rotate(-90) scale(1,1.04)" text-anchor="middle">0.05</text>
<text transform="translate(111.66,516.98) rotate(-90) scale(1,1.04)" text-anchor="middle">0.10</text>
<text transform="translate(111.66,404.62) rotate(-90) scale(1,1.04)" text-anchor="middle">0.15</text>
<text transform="translate(111.66,292.27) rotate(-90) scale(1,1.04)" text-anchor="middle">0.20</text>
<text transform="translate(111.66,179.91) rotate(-90) scale(1,1.04)" text-anchor="middle">0.25</text>
<text x="998.40" y="910.58" text-anchor="middle">velocity of galaxy (1000km/s)</text>
<text transform="translate(34.56,461.60) rotate(-90)" text-anchor="middle">density</text>
</svg></body></html>
